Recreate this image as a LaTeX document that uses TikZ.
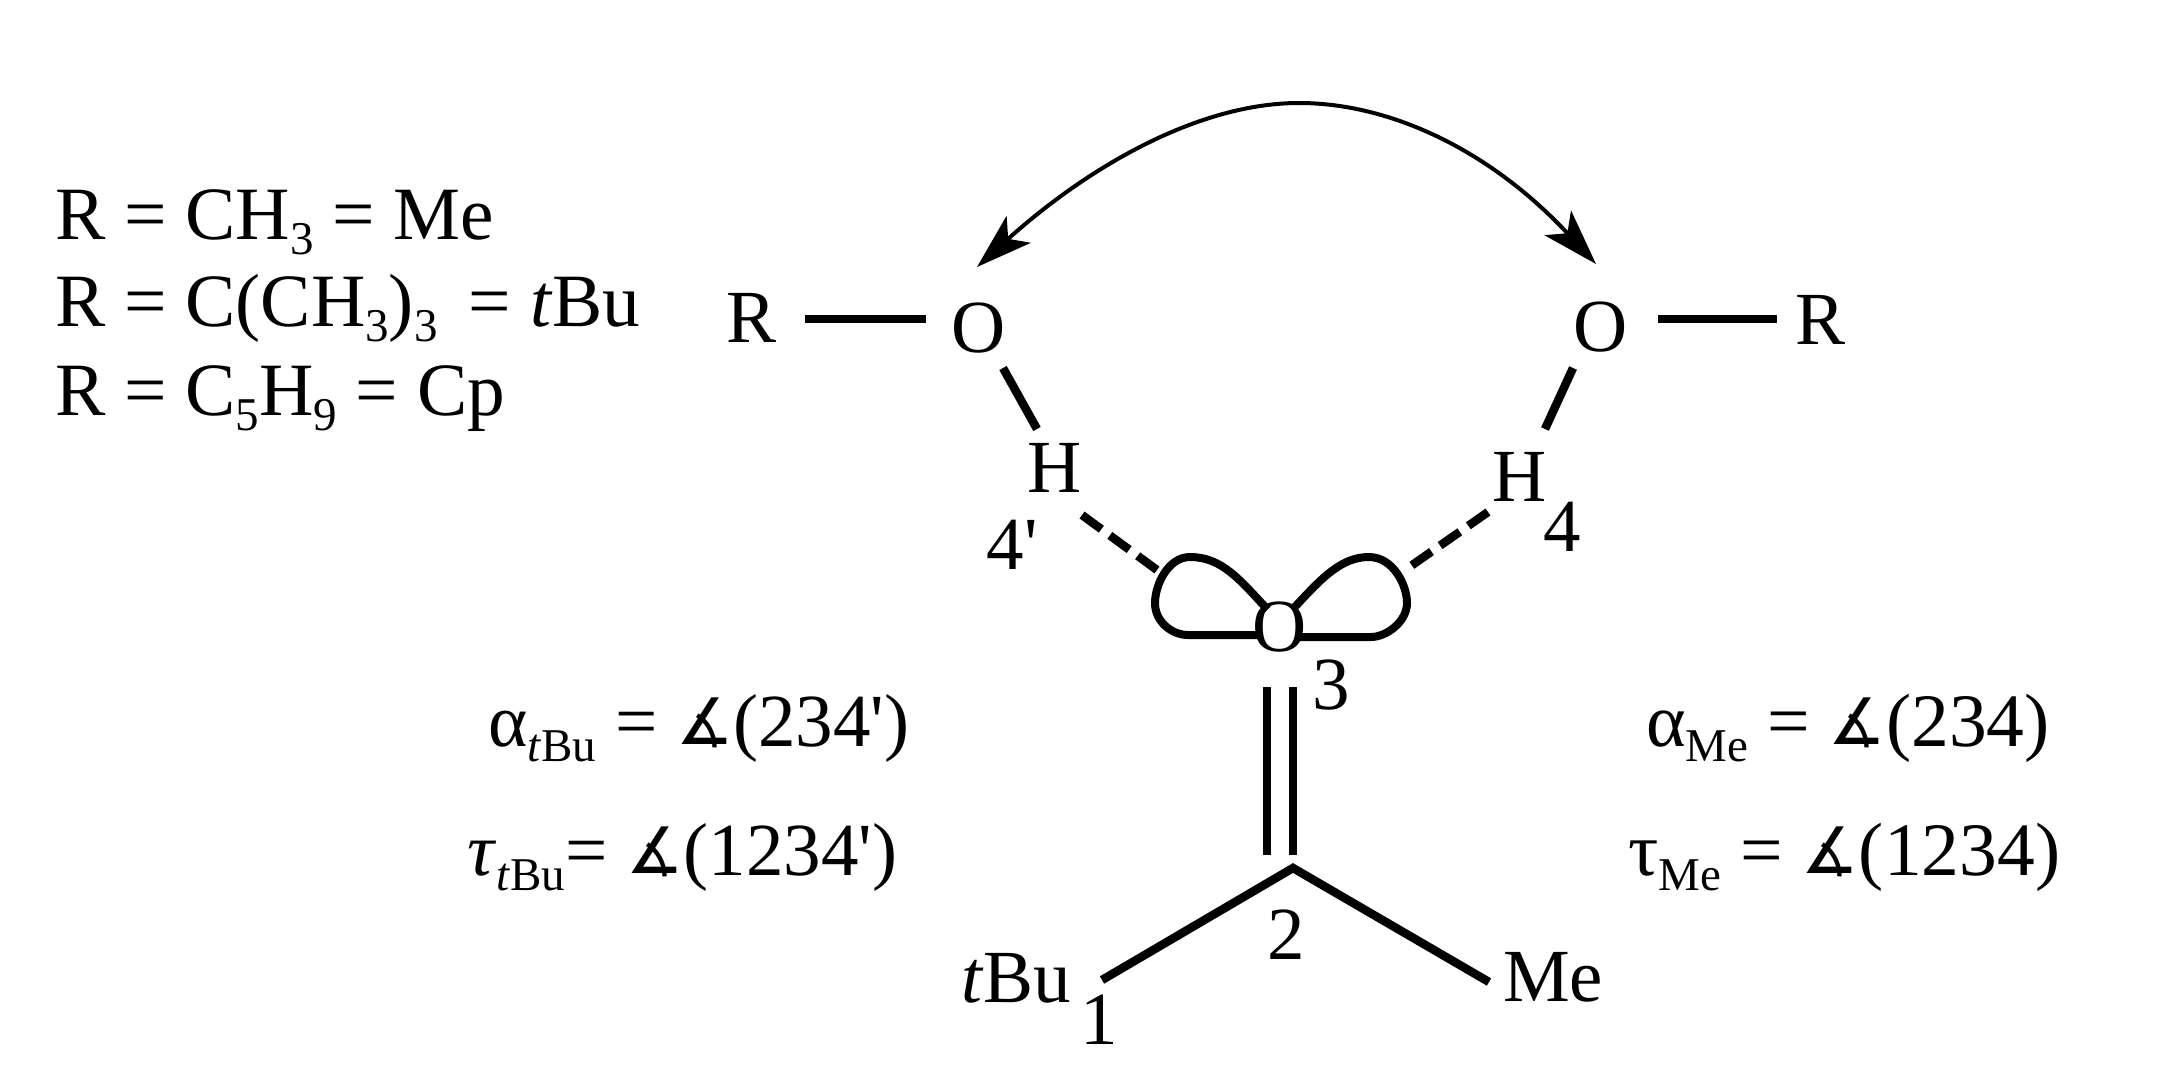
\documentclass[tikz,border=0pt]{standalone}
\usepackage{fontspec}
\setmainfont{Liberation Serif}
\newfontfamily\symfont{DejaVu Sans}
\newfontfamily\plainfont{Liberation Serif}
\usetikzlibrary{arrows.meta,shapes.geometric}
\newcommand{\lowtxt}[1]{\raisebox{-15pt}{\fontsize{47}{47}\selectfont #1}}
\newcommand{\angsym}{\raisebox{2pt}{\fontsize{64}{64}\selectfont\symfont ∡}}
\newcommand{\prm}{{\plainfont '}}
\tikzset{
  lab/.style={inner sep=0pt,font=\fontsize{75}{75}\selectfont,text=black},
  baselab/.style={lab,anchor=base west},
  listlab/.style={baselab,font=\fontsize{75.3}{76}\selectfont},
  leftlab/.style={baselab,font=\fontsize{75}{75}\selectfont},
  rightlab/.style={baselab,font=\fontsize{75.5}{76}\selectfont},
  bond/.style={line width=8.5pt,line cap=butt},
  hbond/.style={line width=8.5pt,dash pattern=on 24pt off 10.5pt},
  lobe/.style={line width=8pt,line join=round},
  curved/.style={line width=4pt,{Stealth[length=56pt,width=36pt,inset=14pt]}-{Stealth[length=56pt,width=36pt,inset=14pt]}}
}
\begin{document}
\begin{tikzpicture}[x=1pt,y=-1pt]
\useasboundingbox (0,0) rectangle (2157,1071);
% list
\node[listlab] (l1) at (55,239) {R = CH\lowtxt{3} = Me};
\node[listlab] (l2) at (55,326) {R = C(CH\lowtxt{3})\lowtxt{3}\, = \textit{t}Bu};
\node[listlab] (l3) at (55,415) {R = C\lowtxt{5}H\lowtxt{9} = Cp};
% atoms
\node[lab] (Rl) at (752,318) {R};
\node[lab] (Ol) at (979,328) {O};
\node[lab] (Hl) at (1055,468) {H};
\node[lab] (n4p) at (1012,545) {4\prm};
\node[lab] (Rr) at (1820,320) {R};
\node[lab] (Or) at (1601,327) {O};
\node[lab] (Hr) at (1520,477) {H};
\node[lab] (n4) at (1562,527) {4};
\node[lab] (n3) at (1331,685) {3};
\node[lab] (n2) at (1286,935) {2};
\node[lab] (n1) at (1099,1020) {1};
\node[lab] (tbu) at (1016,978) {\textit{t}Bu};
\node[lab] (me) at (1553,977) {Me};
% coordinates
\coordinate (rlb) at (805,319); \coordinate (olb) at (926,319);
\coordinate (ohla) at (1003,368); \coordinate (ohlb) at (1037,429);
\coordinate (orb) at (1658,319); \coordinate (rrb) at (1777,319);
\coordinate (ohra) at (1573,368); \coordinate (ohrb) at (1545,429);
\coordinate (hla) at (1082,515); \coordinate (hlb) at (1157,570);
\coordinate (hra) at (1488,512); \coordinate (hrb) at (1408,568);
\coordinate (c2) at (1293,868);
\coordinate (c1) at (1102,980); \coordinate (c3) at (1489,982);
\coordinate (d1a) at (1267,687); \coordinate (d1b) at (1267,855);
\coordinate (d2a) at (1293,687); \coordinate (d2b) at (1293,855);
\coordinate (tipl) at (977,267); \coordinate (apex) at (1299,103); \coordinate (tipr) at (1596,264);
% bonds
\draw[bond] (rlb) -- (olb);
\draw[bond] (ohla) -- (ohlb);
\draw[bond] (orb) -- (rrb);
\draw[bond] (ohra) -- (ohrb);
\draw[hbond] (hla) -- (hlb);
\draw[hbond] (hra) -- (hrb);
\draw[bond] (d1a) -- (d1b);
\draw[bond] (d2a) -- (d2b);
\draw[bond,line join=miter] (c1) -- (c2) -- (c3);
% lobes
\draw[lobe] (1268,610) .. controls (1240,580) and (1222,557) .. (1190,557)
  .. controls (1168,557) and (1155,585) .. (1155,603)
  .. controls (1155,622) and (1172,635) .. (1188,635) -- (1262,635);
\draw[lobe] (1292,610) .. controls (1320,580) and (1340,557) .. (1369,557)
  .. controls (1393,557) and (1407,585) .. (1407,603)
  .. controls (1407,622) and (1386,637) .. (1371,637) -- (1298,637);
\node[lab,fill=white,ellipse,inner sep=0pt,minimum width=38pt,minimum height=46pt] (oc) at (1280,627) {};
\node[lab] (oct) at (1280,627) {O};
% arrow
\draw[curved] (tipl) .. controls (1090,165) and (1200,103) .. (apex)
  .. controls (1390,103) and (1490,150) .. (tipr);
% angle labels
\node[leftlab] (al) at (488,746) {α\lowtxt{\textit{t}Bu} = \angsym(234\prm)};
\node[leftlab] (tl) at (467,875) {\textit{τ}\lowtxt{\textit{t}Bu}= \angsym(1234\prm)};
\node[rightlab] (ar) at (1646,746) {α\lowtxt{Me} = \angsym(234)};
\node[rightlab] (tr) at (1628,875) {τ\lowtxt{Me} = \angsym(1234)};
\end{tikzpicture}
\end{document}
